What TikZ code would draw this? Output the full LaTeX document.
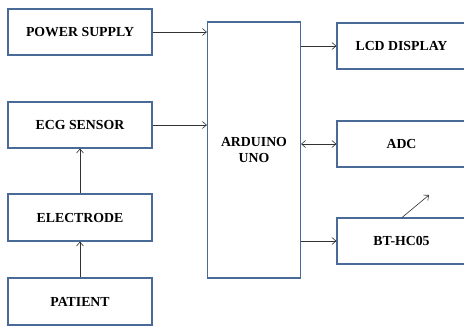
\documentclass[tikz,border=0pt]{standalone}
\usepackage{fontspec}
\setmainfont{Liberation Serif}
\usetikzlibrary{arrows.meta}
\definecolor{boxblue}{HTML}{4A6A98}
\definecolor{wire}{HTML}{333333}
\begin{document}
\begin{tikzpicture}[x=1pt,y=-1pt,
  blk/.style={draw=boxblue,line width=1.2pt,fill=white,inner sep=0pt,
    font=\fontsize{13.8}{16}\selectfont\bfseries,align=center},
  conn/.style={draw=wire,line width=0.6pt,-{Straight Barb[length=4pt,width=7pt]}},
  bconn/.style={draw=wire,line width=0.6pt,{Straight Barb[length=4pt,width=7pt]}-{Straight Barb[length=4pt,width=7pt]}}]
\useasboundingbox (0,0) rectangle (464,326);
\begin{scope}
\clip (0,0) rectangle (464,326);
\node[blk,minimum width=144pt,minimum height=46pt] (ps) at (80,32) {POWER SUPPLY};
\node[blk,minimum width=144pt,minimum height=46pt] (ecg) at (80,125) {ECG SENSOR};
\node[blk,minimum width=144pt,minimum height=47pt] (el) at (80,217.5) {ELECTRODE};
\node[blk,minimum width=144pt,minimum height=47pt] (pat) at (80,301.5) {PATIENT};
\node[blk,minimum width=93pt,minimum height=256pt] (ard) at (254,150) {ARDUINO\\UNO};
\node[blk,minimum width=129pt,minimum height=46pt] (lcd) at (401.5,46) {LCD DISPLAY};
\node[blk,minimum width=129pt,minimum height=46pt] (adc) at (401.5,144) {ADC};
\node[blk,minimum width=129pt,minimum height=46pt] (bt) at (401.5,241) {BT-HC05};
\end{scope}
\draw[conn] (ps.east) -- (ps.east -| ard.west);
\draw[conn] (ecg.east) -- (ecg.east -| ard.west);
\draw[conn] (ard.east |- lcd.west) -- (lcd.west);
\draw[bconn] (ard.east |- adc.west) -- (adc.west);
\draw[conn] (ard.east |- bt.west) -- (bt.west);
\draw[conn] (el.north) -- (ecg.south);
\draw[conn] (pat.north) -- (el.south);
\coordinate (ant) at (429,195);
\draw[conn] (402,217.5) -- (ant);
\end{tikzpicture}
\end{document}
